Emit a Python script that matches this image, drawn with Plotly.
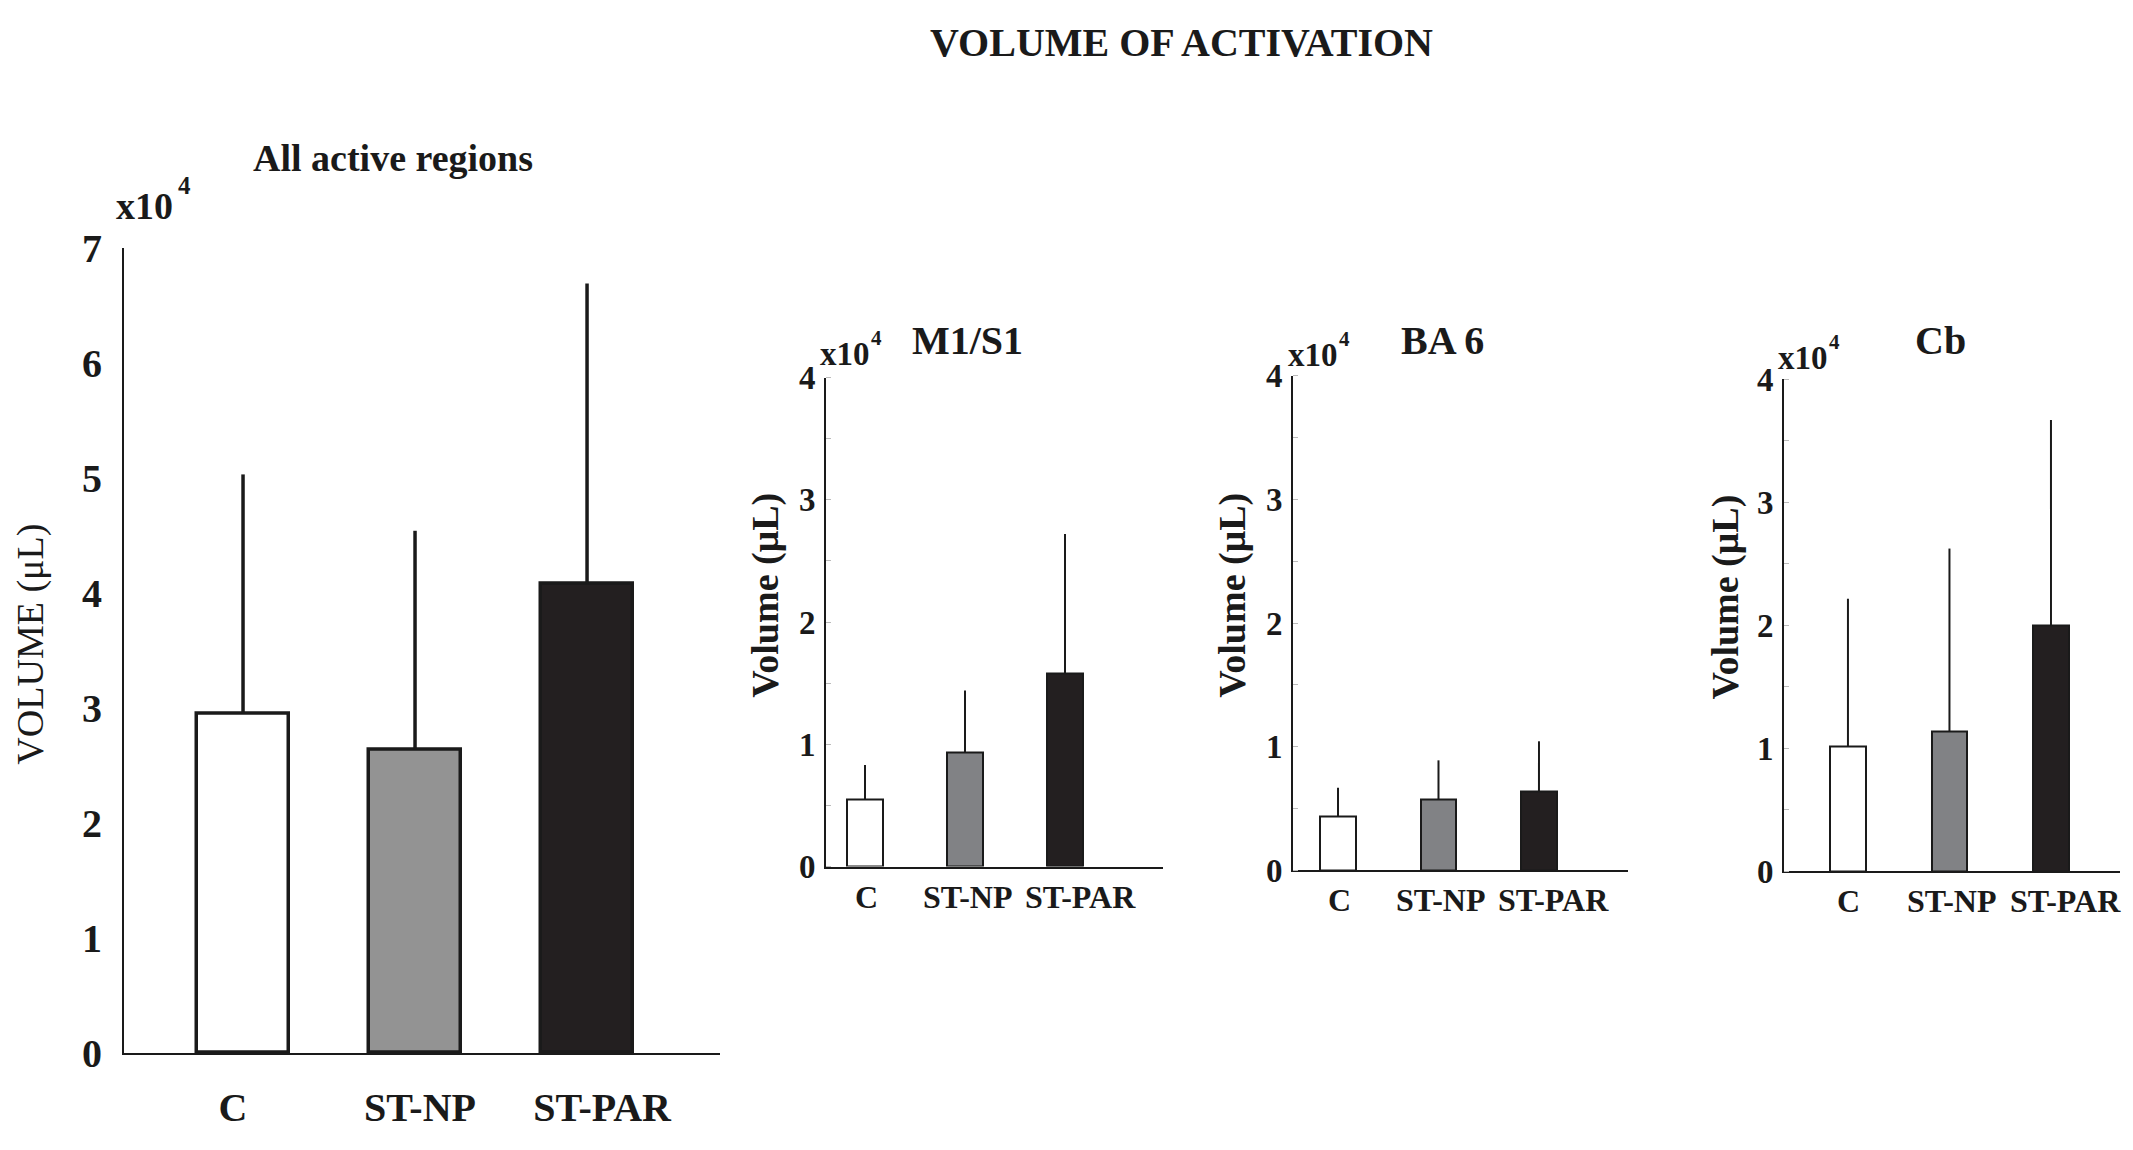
import plotly.graph_objects as go

W, H = 2133, 1150

# ---------------- data ----------------
categories = ["C", "ST-NP", "ST-PAR"]
all_mean = [29500, 26400, 40800]
all_err = [20800, 19000, 26100]
m1_mean = [5500, 9350, 15800]
m1_err = [2800, 5050, 11400]
ba6_mean = [4340, 5690, 6390]
ba6_err = [2340, 3210, 4050]
cb_mean = [10180, 11370, 20000]
cb_err = [11990, 14880, 16700]
main_ticks = [0, 1, 2, 3, 4, 5, 6, 7]
small_ticks = [0, 1, 2, 3, 4]
main_colors = ["#ffffff", "#939393", "#231f20"]
small_colors = ["#ffffff", "#818285", "#231f20"]

SERIF = "Liberation Serif"
NB = "\u00a0"
# small horizontal nudges of the main category labels (leading / trailing no-break spaces)
main_pad = [("", NB * 2), (NB, ""), (NB * 3, "")]
# horizontal nudges (px) of the small-panel category labels
small_shift = [1, 3, 15]


def fx(px):
    return px / W


def fy(py):
    return 1 - py / H


fig = go.Figure()

panels = [
    dict(means=all_mean, errs=all_err, x0=124, x1=720, yt=235, yb=1073,
         xr=[-0.692, 2.773], bw=0.54, ticks=main_ticks, colors=main_colors,
         lw=3.5, ew=3.5, tickfs=40, catfs=40, ystand=12, xstand=18,
         minor=False, main=True),
    dict(means=m1_mean, errs=m1_err, x0=826, x1=1163, yt=370, yb=879,
         xr=[-0.39, 2.98], bw=0.36, ticks=small_ticks, colors=small_colors,
         lw=2, ew=2, tickfs=33, catfs=32, ystand=2, xstand=0,
         minor=True, main=False),
    dict(means=ba6_mean, errs=ba6_err, x0=1293, x1=1628, yt=368, yb=883,
         xr=[-0.448, 2.886], bw=0.35, ticks=small_ticks, colors=small_colors,
         lw=2, ew=2, tickfs=33, catfs=32, ystand=2, xstand=0,
         minor=True, main=False),
    dict(means=cb_mean, errs=cb_err, x0=1784, x1=2120, yt=372, yb=884,
         xr=[-0.63, 2.68], bw=0.35, ticks=small_ticks, colors=small_colors,
         lw=2, ew=2, tickfs=33, catfs=32, ystand=2, xstand=0,
         minor=True, main=False),
]

annotations = []


def ann(text, x, y, size, bold=True, angle=0, xanchor="center", yanchor="middle"):
    annotations.append(dict(
        text=text, x=fx(x), y=fy(y), xref="paper", yref="paper",
        showarrow=False, textangle=angle, xanchor=xanchor, yanchor=yanchor,
        borderpad=0,
        font=dict(family=SERIF, size=size, color="#1a1a1a",
                  weight="bold" if bold else "normal"),
    ))


layout_axes = {}
for i, p in enumerate(panels):
    n = "" if i == 0 else str(i + 1)
    fig.add_trace(go.Bar(
        x=categories, y=p["means"],
        width=p["bw"],
        marker=dict(color=p["colors"], line=dict(color="#1a1a1a", width=p["lw"])),
        error_y=dict(type="data", symmetric=False, array=p["errs"],
                     arrayminus=[0] * len(p["errs"]), width=0,
                     thickness=p["ew"], color="#1a1a1a"),
        xaxis="x" + n, yaxis="y" + n, showlegend=False,
    ))
    ymax = p["ticks"][-1] * 10000
    xax = dict(
        domain=[fx(p["x0"]), fx(p["x1"])], anchor="y" + n,
        range=p["xr"], type="category",
        tickangle=0,
        showline=True, linecolor="#1a1a1a", linewidth=2,
        showgrid=False, zeroline=False, ticks="",
        tickfont=dict(family=SERIF, size=p["catfs"], color="#1a1a1a", weight="bold"),
        ticklabelstandoff=p["xstand"], fixedrange=True,
    )
    if p["main"]:
        xax["tickvals"] = categories
        xax["ticktext"] = [a + c + b for c, (a, b) in zip(categories, main_pad)]
    else:
        xax["showticklabels"] = False
        for c, sh in zip(categories, small_shift):
            annotations.append(dict(
                text=c, x=c, y=0, xref="x" + n, yref="y" + n,
                xshift=sh, yshift=-30, showarrow=False,
                xanchor="center", yanchor="middle", borderpad=0,
                font=dict(family=SERIF, size=p["catfs"], color="#1a1a1a",
                          weight="bold"),
            ))
    layout_axes["xaxis" + n] = xax
    yax = dict(
        domain=[fy(p["yb"]), fy(p["yt"])], anchor="x" + n,
        range=[0, ymax],
        tickvals=[t * 10000 for t in p["ticks"]],
        ticktext=[str(t) for t in p["ticks"]],
        showline=True, linecolor="#1a1a1a", linewidth=2,
        showgrid=False, zeroline=False, ticks="",
        tickfont=dict(family=SERIF, size=p["tickfs"], color="#1a1a1a", weight="bold"),
        ticklabelstandoff=p["ystand"], fixedrange=True,
    )
    if p["minor"]:
        yax["minor"] = dict(dtick=5000, ticks="inside", ticklen=5,
                            tickcolor="#bbbbbb", tickwidth=1)
    layout_axes["yaxis" + n] = yax

fig.update_layout(**layout_axes)

ann("VOLUME OF ACTIVATION", 1181, 21, 40)
ann("All active regions", 393, 142, 38)
ann("M1/S1", 967, 331, 40)
ann("BA 6", 1442, 331, 40)
ann("Cb", 1940, 331, 40)

# multiplier labels  (x10 and the exponent)
ann("x10", 115, 192, 38, xanchor="left")
ann("4", 177, 170, 25, xanchor="left")
for xs, yb in [(819, 357), (1287, 358), (1777, 361)]:
    ann("x10", xs, yb - 11, 33, xanchor="left")
    ann("4", xs + 51, yb - 28, 21, xanchor="left")

ann("VOLUME (\u03bcL)", 31, 648, 38, bold=False, angle=-90)
ann("Volume (\u03bcL)", 766, 597, 38, angle=-90)
ann("Volume (\u03bcL)", 1233, 597, 38, angle=-90)
ann("Volume (\u03bcL)", 1726, 599, 38, angle=-90)

fig.update_layout(
    width=W, height=H, autosize=False,
    margin=dict(l=0, r=0, t=0, b=0),
    paper_bgcolor="white", plot_bgcolor="white",
    annotations=annotations, bargap=0,
    font=dict(family=SERIF, color="#1a1a1a"),
)

fig.write_html(
    "out.html",
    config={"displayModeBar": False},
    post_script="document.body.style.margin='0px';document.body.style.overflow='hidden';",
)
